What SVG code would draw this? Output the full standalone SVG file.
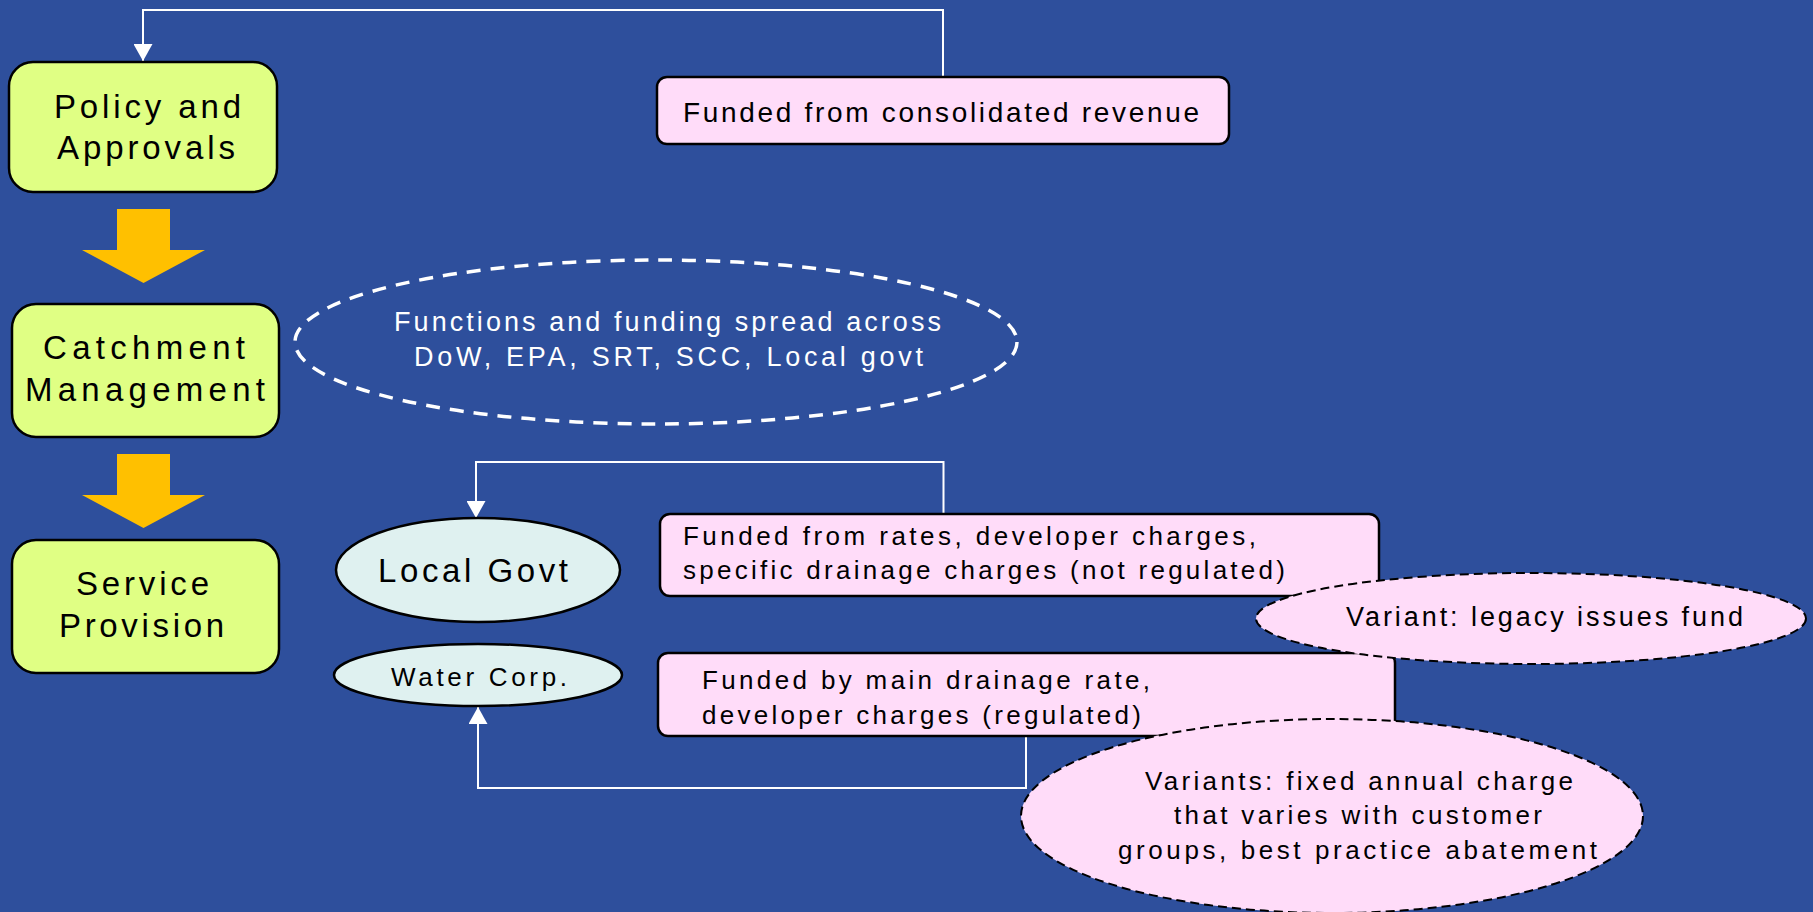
<svg xmlns="http://www.w3.org/2000/svg" width="1813" height="912" viewBox="0 0 1813 912">
<style>
text{font-family:"Liberation Sans",Arial,sans-serif;fill:#000}
.stage{fill:#e0ff84;stroke:#000;stroke-width:2.5}
.stage-t{font-size:33px}
.fund{fill:#ffdcf9;stroke:#000;stroke-width:2.5}
.fund-t{font-size:26px}
.org{fill:#dff1f0;stroke:#000;stroke-width:2.5}
.var{fill:#ffdcf9;stroke:#000;stroke-width:2;stroke-dasharray:9 5}
.conn{fill:none;stroke:#fff;stroke-width:2}
.flow{fill:#ffc000}
</style>
<defs>
<marker id="ah" viewBox="0 0 17 19" refX="17" refY="9.5" markerWidth="17" markerHeight="19" orient="auto" markerUnits="userSpaceOnUse">
<path d="M0,0 L17,9.5 L0,19 z" fill="#fff"/>
</marker>
</defs>
<rect width="1813" height="912" fill="#2e4f9c"/>

<g id="connectors">
<path class="conn" d="M943,77 V10 H143 V61" marker-end="url(#ah)"/>
<path class="conn" d="M943.5,514 V462 H476 V518" marker-end="url(#ah)"/>
<path class="conn" d="M1026,736 V788 H478 V707" marker-end="url(#ah)"/>
<path class="flow" d="M117,209 H170 V250 H205 L143.5,283 L82,250 H117 z"/>
<path class="flow" d="M117,454 H170 V495 H205 L143.5,528 L82,495 H117 z"/>
</g>

<g id="policy">
<rect class="stage" x="9" y="62" width="268" height="130" rx="24"/>
<text class="stage-t" x="54" y="118" textLength="187" lengthAdjust="spacing">Policy and</text>
<text class="stage-t" x="57" y="159" textLength="178" lengthAdjust="spacing">Approvals</text>
</g>

<g id="catchment">
<rect class="stage" x="12" y="304" width="267" height="133" rx="24"/>
<text class="stage-t" x="43" y="359" textLength="202" lengthAdjust="spacing">Catchment</text>
<text class="stage-t" x="25" y="401" textLength="240" lengthAdjust="spacing">Management</text>
</g>

<g id="service">
<rect class="stage" x="12" y="540" width="267" height="133" rx="24"/>
<text class="stage-t" x="76" y="595" textLength="133" lengthAdjust="spacing">Service</text>
<text class="stage-t" x="59" y="637" textLength="165" lengthAdjust="spacing">Provision</text>
</g>

<g id="consolidated">
<rect class="fund" x="657" y="77" width="572" height="67" rx="10"/>
<text x="683" y="122" font-size="28" textLength="516" lengthAdjust="spacing">Funded from consolidated revenue</text>
</g>

<g id="functions">
<ellipse cx="656" cy="342" rx="361" ry="82" fill="none" stroke="#fff" stroke-width="3.5" stroke-dasharray="14 10"/>
<text x="394" y="331" font-size="27" style="fill:#fff" textLength="547" lengthAdjust="spacing">Functions and funding spread across</text>
<text x="414" y="366" font-size="27" style="fill:#fff" textLength="509" lengthAdjust="spacing">DoW, EPA, SRT, SCC, Local govt</text>
</g>

<g id="localgovt">
<ellipse class="org" cx="478" cy="570" rx="142" ry="52"/>
<text x="378" y="582" font-size="33" textLength="190" lengthAdjust="spacing">Local Govt</text>
</g>

<g id="watercorp">
<ellipse class="org" cx="478" cy="675" rx="144" ry="31"/>
<text x="391" y="686" font-size="26" textLength="176" lengthAdjust="spacing">Water Corp.</text>
</g>

<g id="rates">
<rect class="fund" x="660" y="514" width="719" height="82" rx="10"/>
<text class="fund-t" x="683" y="545" textLength="573" lengthAdjust="spacing">Funded from rates, developer charges,</text>
<text class="fund-t" x="683" y="579" textLength="602" lengthAdjust="spacing">specific drainage charges (not regulated)</text>
</g>

<g id="maindrainage">
<rect class="fund" x="658" y="653" width="737" height="83" rx="10"/>
<text class="fund-t" x="702" y="689" textLength="448" lengthAdjust="spacing">Funded by main drainage rate,</text>
<text class="fund-t" x="702" y="724" textLength="439" lengthAdjust="spacing">developer charges (regulated)</text>
</g>

<g id="legacy">
<ellipse class="var" cx="1531" cy="618.5" rx="275" ry="45.5"/>
<text x="1346" y="626" font-size="27" textLength="397" lengthAdjust="spacing">Variant: legacy issues fund</text>
</g>

<g id="variants">
<ellipse class="var" cx="1332" cy="816" rx="311" ry="97"/>
<text class="fund-t" x="1145" y="790" textLength="428" lengthAdjust="spacing">Variants: fixed annual charge</text>
<text class="fund-t" x="1174" y="824" textLength="368" lengthAdjust="spacing">that varies with customer</text>
<text class="fund-t" x="1118" y="859" textLength="479" lengthAdjust="spacing">groups, best practice abatement</text>
</g>
</svg>
